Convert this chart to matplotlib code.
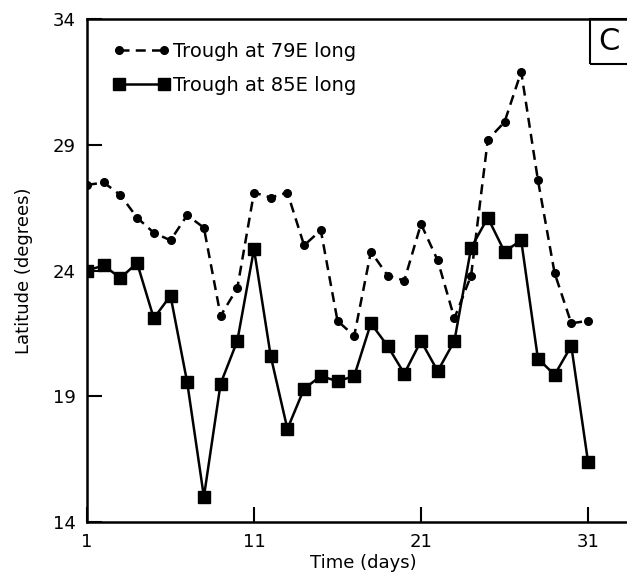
import numpy as np
import matplotlib
matplotlib.use("Agg")
import matplotlib.pyplot as plt
from matplotlib.patches import Rectangle

# Daily trough positions (latitude, degrees)
days = np.arange(1, 32)
trough_79e = [27.4, 27.5, 27.0, 26.1, 25.5, 25.2, 26.2, 25.7, 22.2, 23.3,
              27.1, 26.9, 27.1, 25.0, 25.6, 22.0, 21.4, 24.75, 23.8, 23.6,
              25.85, 24.4, 22.1, 23.8, 29.2, 29.9, 31.9, 27.6, 23.9, 21.9,
              22.0]
trough_85e = [24.0, 24.2, 23.7, 24.3, 22.1, 23.0, 19.55, 15.0, 19.5, 21.2,
              24.85, 20.6, 17.7, 19.3, 19.8, 19.6, 19.8, 21.9, 21.0, 19.9,
              21.2, 20.0, 21.2, 24.9, 26.1, 24.75, 25.2, 20.5, 19.85, 21.0,
              16.4]
x_ticks = [1, 11, 21, 31]
y_ticks = [14, 19, 24, 29, 34]

fig = plt.figure(figsize=(6.27, 5.82), dpi=100)
ax = fig.add_axes([87 / 627, 60 / 582, 553 / 627, 503 / 582])

ax.plot(days, trough_79e, color="black", lw=1.8, linestyle=(0, (4, 2.5)),
        marker="o", markersize=5.5, label="Trough at 79E long")
ax.plot(days, trough_85e, color="black", lw=1.8, linestyle="-",
        marker="s", markersize=8, label="Trough at 85E long")

ax.set_xlim(1, 1 + 553 / 16.7)
ax.set_ylim(14, 34)
ax.set_xticks(x_ticks)
ax.set_yticks(y_ticks)
ax.tick_params(direction="in", length=11, width=1.5, labelsize=13, pad=8)
for s in ax.spines.values():
    s.set_linewidth(1.8)

ax.set_xlabel("Time (days)", fontsize=13, labelpad=2)
ax.set_ylabel("Latitude (degrees)", fontsize=13, labelpad=14)

leg = ax.legend(loc="upper left", frameon=False, fontsize=14, numpoints=2,
                handlelength=2.9, handletextpad=0.15, labelspacing=0.75,
                borderaxespad=0.4, bbox_to_anchor=(0.02, 0.985))

# panel letter in a box at top right
ax.add_patch(Rectangle((0.91, 0.91), 0.2, 0.09, transform=ax.transAxes,
                       fill=False, ec="black", lw=1.5, clip_on=False))
ax.text(0.943, 0.955, "C", transform=ax.transAxes, fontsize=22,
        ha="center", va="center")

fig.savefig("out.png", dpi=100)
